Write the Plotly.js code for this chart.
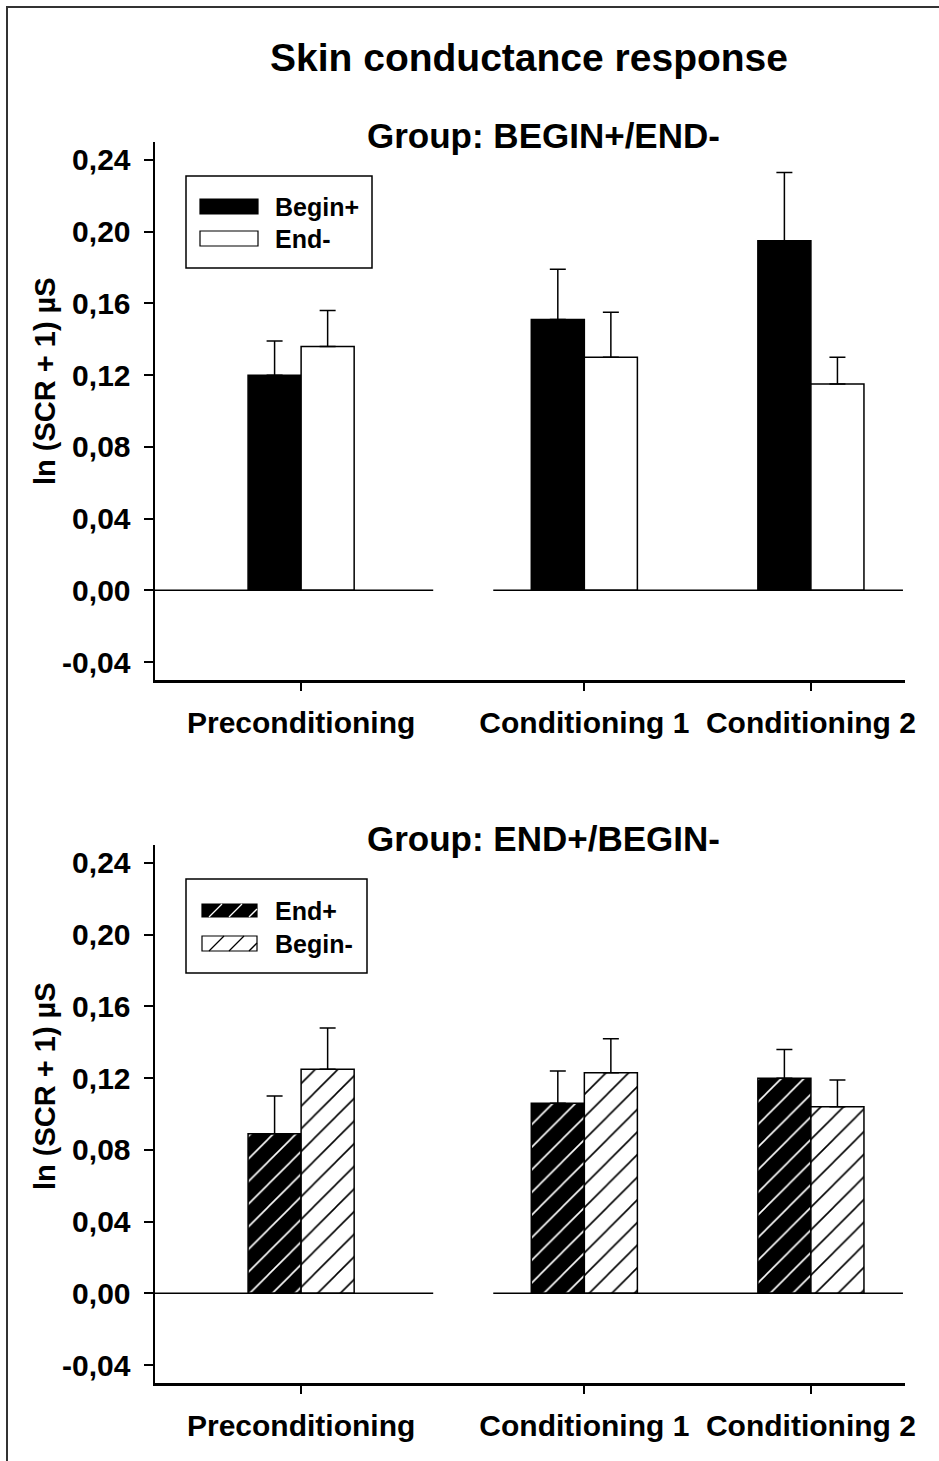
<!DOCTYPE html>
<html><head><meta charset="utf-8">
<script src="https://cdn.plot.ly/plotly-3.0.1.min.js"></script>
<style>html,body{margin:0;padding:0;background:#fff}</style>
</head><body><div id="chart" style="width:939px;height:1461px"></div>
<script>
// ---- data ----
const phases = ['Preconditioning', 'Conditioning 1', 'Conditioning 2'];
const phasePos = [1, 2, 2.8];
const yTickVals = [-0.04, 0, 0.04, 0.08, 0.12, 0.16, 0.20, 0.24];
const yTickText = ['-0,04', '0,00', '0,04', '0,08', '0,12', '0,16', '0,20', '0,24'];
// Group BEGIN+/END-
const beginPlusMean = [0.120, 0.151, 0.195];
const beginPlusSE   = [0.019, 0.028, 0.038];
const endMinusMean  = [0.136, 0.130, 0.115];
const endMinusSE    = [0.020, 0.025, 0.015];
// Group END+/BEGIN-
const endPlusMean    = [0.089, 0.106, 0.120];
const endPlusSE      = [0.021, 0.018, 0.016];
const beginMinusMean = [0.125, 0.123, 0.104];
const beginMinusSE   = [0.023, 0.019, 0.015];

// ---- helpers ----
const W = 939, H = 1461;
const px = x => x / W;
const py = y => 1 - y / H;
const xLo = 0.4841, xHi = 3.1322;
const barW = 0.1873;
const FONT = 'Liberation Sans, Arial, sans-serif';
const zeros = phases.map(() => 0);

function barTrace(mean, se, xa, ya, offset, marker) {
  return {
    type: 'bar', x: phasePos, y: mean, xaxis: xa, yaxis: ya,
    width: barW, offset: offset, marker: marker, showlegend: false,
    error_y: {type: 'data', symmetric: false, array: se, arrayminus: zeros,
              color: '#000', thickness: 1.5, width: 8},
    hoverinfo: 'y'
  };
}
const solidBlack = {color: '#000', line: {color: '#000', width: 1.5}};
const solidWhite = {color: '#fff', line: {color: '#000', width: 1.5}};
const hatchBlack = {color: '#000', line: {color: '#000', width: 1.5},
  pattern: {shape: '/', bgcolor: '#000', fgcolor: '#fff', size: 16, solidity: 0.1}};
const hatchWhite = {color: '#fff', line: {color: '#000', width: 1.5},
  pattern: {shape: '/', bgcolor: '#fff', fgcolor: '#000', size: 16, solidity: 0.1}};

const data = [
  barTrace(beginPlusMean, beginPlusSE, 'x', 'y', -barW, solidBlack),
  barTrace(endMinusMean, endMinusSE, 'x', 'y', 0, solidWhite),
  barTrace(endPlusMean, endPlusSE, 'x2', 'y2', -barW, hatchBlack),
  barTrace(beginMinusMean, beginMinusSE, 'x2', 'y2', 0, hatchWhite)
];

function xAxis(anchor) {
  return {
    domain: [px(155), px(905)], range: [xLo, xHi], anchor: anchor,
    tickmode: 'array', tickvals: phasePos, ticktext: phases,
    ticks: 'outside', ticklen: 8, tickwidth: 2, tickcolor: '#000',
    showline: true, linewidth: 2.5, linecolor: '#000',
    showgrid: false, zeroline: false, ticklabelstandoff: 6,
    tickfont: {family: FONT, size: 30, weight: 'bold', color: '#000'}
  };
}
function yAxis(anchor, top, bottom) {
  return {
    domain: [py(bottom), py(top)], range: [-0.05, 0.25], anchor: anchor,
    tickmode: 'array', tickvals: yTickVals, ticktext: yTickText,
    ticks: 'outside', ticklen: 9, tickwidth: 2, tickcolor: '#000',
    showline: true, linewidth: 2.5, linecolor: '#000',
    showgrid: false, zeroline: false, ticklabelstandoff: 7,
    tickfont: {family: FONT, size: 30, weight: 'bold', color: '#000'}
  };
}

const shapes = [];
// outer frame
shapes.push({type: 'rect', xref: 'paper', yref: 'paper', x0: px(7), x1: px(947), y0: py(1472), y1: py(7),
  line: {color: '#333', width: 2}});
// broken zero lines
[['x', 'y'], ['x2', 'y2']].forEach(([xa, ya]) => {
  shapes.push({type: 'line', xref: xa, yref: ya, x0: xLo, x1: 1.4664, y0: 0, y1: 0, line: {color: '#000', width: 1.5}});
  shapes.push({type: 'line', xref: xa, yref: ya, x0: 1.6784, x1: 3.125, y0: 0, y1: 0, line: {color: '#000', width: 1.5}});
});
// legend boxes
function rectPx(x0, y0, x1, y1, fill, lw) {
  shapes.push({type: 'rect', xref: 'paper', yref: 'paper', x0: px(x0), x1: px(x1), y0: py(y1), y1: py(y0),
    fillcolor: fill, line: {color: '#000', width: lw}});
}
function linePx(x0, y0, x1, y1, color) {
  shapes.push({type: 'line', xref: 'paper', yref: 'paper', x0: px(x0), x1: px(x1), y0: py(y0), y1: py(y1),
    line: {color: color, width: 1.3}});
}
rectPx(186, 176, 372, 268, '#fff', 1.5);
rectPx(200, 199, 258, 214, '#000', 1.2);
rectPx(200, 231, 258, 246, '#fff', 1.2);
rectPx(186, 879, 367, 973, '#fff', 1.5);
rectPx(202, 904, 257, 917, '#000', 1.2);
[209, 229, 249].forEach(x => linePx(x, 917, Math.min(x + 13, 257), 917 - (Math.min(x + 13, 257) - x), '#fff'));
rectPx(202, 936, 257, 951, '#fff', 1.2);
[209, 229, 249].forEach(x => linePx(x, 951, Math.min(x + 15, 257), 951 - (Math.min(x + 15, 257) - x), '#000'));

function ann(text, x, y, size, extra) {
  return Object.assign({text: text, xref: 'paper', yref: 'paper', x: px(x), y: py(y), showarrow: false,
    xanchor: 'center', yanchor: 'middle',
    font: {family: FONT, size: size, weight: 'bold', color: '#000'}}, extra || {});
}
const annotations = [
  ann('Skin conductance response', 529, 58, 39),
  ann('Group: BEGIN+/END-', 543, 136, 35),
  ann('Group: END+/BEGIN-', 543, 838, 35),
  ann('ln (SCR + 1) µS', 45, 381, 29, {textangle: -90}),
  ann('ln (SCR + 1) µS', 45, 1086, 29, {textangle: -90}),
  ann('Begin+', 273, 207, 25, {xanchor: 'left'}),
  ann('End-', 273, 239, 25, {xanchor: 'left'}),
  ann('End+', 273, 911, 25, {xanchor: 'left'}),
  ann('Begin-', 273, 944, 25, {xanchor: 'left'})
];

const layout = {
  width: W, height: H, margin: {l: 0, r: 0, t: 0, b: 0},
  paper_bgcolor: '#fff', plot_bgcolor: 'rgba(0,0,0,0)',
  barmode: 'overlay', showlegend: false,
  font: {family: FONT, color: '#000'},
  xaxis: xAxis('y'), yaxis: yAxis('x', 142, 680),
  xaxis2: xAxis('y2'), yaxis2: yAxis('x2', 845, 1383),
  shapes: shapes, annotations: annotations
};
Plotly.newPlot('chart', data, layout, {staticPlot: true});
</script></body></html>
